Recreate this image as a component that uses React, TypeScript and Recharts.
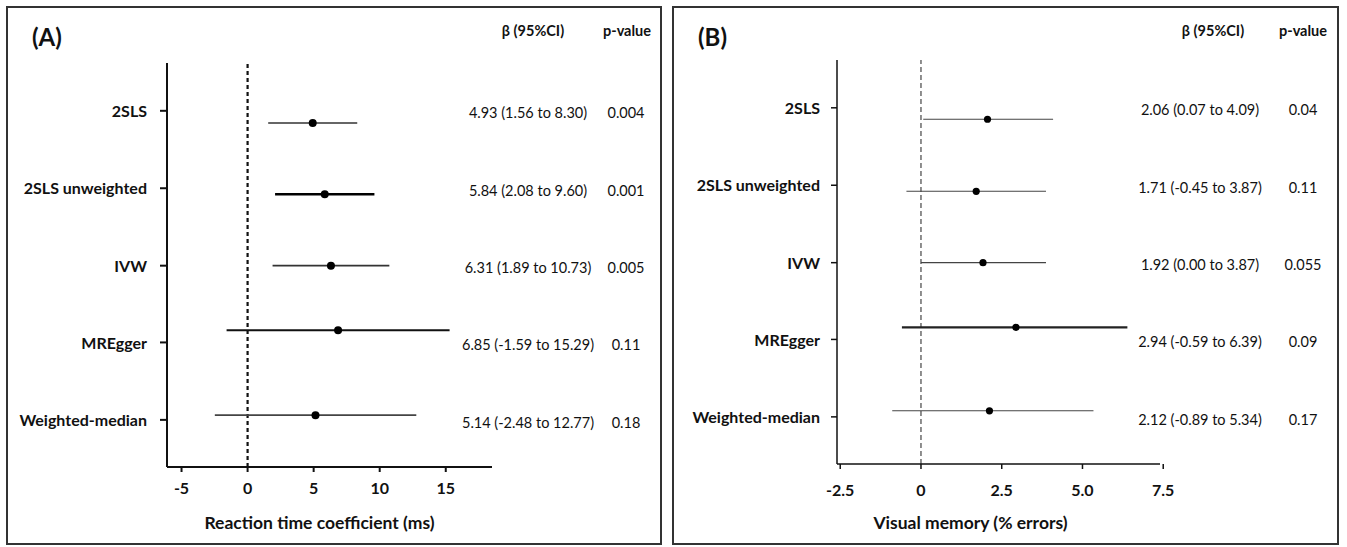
import { ScatterChart, Scatter, XAxis, YAxis, ReferenceLine, Label } from 'recharts';

// rows, top to bottom
const methods = ['2SLS', '2SLS unweighted', 'IVW', 'MREgger', 'Weighted-median'];
// where the row labels sit on the y scale (0 = top, 6 = x-axis)
const labelRows = [0.71, 1.86, 3.01, 4.15, 5.3];

// (A) reaction time
const betaA = [4.93, 5.84, 6.31, 6.85, 5.14];
const lowA = [1.56, 2.08, 1.89, -1.59, -2.48];
const highA = [8.3, 9.6, 10.73, 15.29, 12.77];
const pA = ['0.004', '0.001', '0.005', '0.11', '0.18'];
const pointRowsA = [0.89, 1.95, 3.01, 3.97, 5.23];
const xTicksA = [-5, 0, 5, 10, 15];

// (B) visual memory
const betaB = [2.06, 1.71, 1.92, 2.94, 2.12];
const lowB = [0.07, -0.45, 0.0, -0.59, -0.89];
const highB = [4.09, 3.87, 3.87, 6.39, 5.34];
const pB = ['0.04', '0.11', '0.055', '0.09', '0.17'];
const pointRowsB = [0.88, 1.95, 3.01, 3.97, 5.21];
const xTicksB = [-2.5, 0, 2.5, 5, 7.5];

const FONT = 'Lato, "Open Sans", sans-serif';
const INK = '#111';

const fmt = (v: number) => v.toFixed(2);

type PanelCfg = {
  letter: string;
  left: number;
  width: number;
  chartLeft: number;
  chartWidth: number;
  margin: { top: number; right: number; bottom: number; left: number };
  yWidth: number;
  xHeight: number;
  xDomain: [number, number];
  xTicks: number[];
  xFmt: (v: number) => string;
  xTickMargin: number;
  yTickSize: number;
  yTickMargin: number;
  title: string;
  titleDx: number;
  beta: number[];
  low: number[];
  high: number[];
  p: string[];
  rows: number[];
  ciWidths: number[];
  ciColors: string[];
  dotR: number;
  axisWidth: number;
  zeroDash: string;
  zeroWidth: number;
  zeroColor: string;
  valX: number; // centre of the β column, chart coords
  pX: number;   // centre of the p column, chart coords
  betaHead: number;
  pHead: number;
};

function Panel({ c }: { c: PanelCfg }) {
  const points = c.beta.map((b, i) => ({ x: b, y: c.rows[i] }));

  // row label on the axis + the β (95%CI) and p-value columns on the same row
  const RowTick = (props: any) => {
    const { x, y, payload } = props;
    const i = labelRows.indexOf(payload.value);
    if (i < 0) return null;
    return (
      <g fontFamily={FONT} fill={INK}>
        <text x={x} y={y + 2} textAnchor="end" dominantBaseline="middle" fontSize={16} fontWeight={700}>
          {methods[i]}
        </text>
        <text x={c.valX} y={y + 4} textAnchor="middle" dominantBaseline="middle" fontSize={14.5}>
          {`${fmt(c.beta[i])} (${fmt(c.low[i])} to ${fmt(c.high[i])})`}
        </text>
        <text x={c.pX} y={y + 4} textAnchor="middle" dominantBaseline="middle" fontSize={14.5}>
          {c.p[i]}
        </text>
      </g>
    );
  };

  const Dot = (props: any) => (
    <circle cx={props.cx} cy={props.cy} r={c.dotR} fill="#000" />
  );

  return (
    <>
      <div style={{
        position: 'absolute', left: c.left, top: 6, width: c.width, height: 539,
        border: '2px solid #333', boxSizing: 'border-box',
      }} />
      <div style={{
        position: 'absolute', left: c.left + 26, top: 22, fontFamily: FONT,
        fontWeight: 700, fontSize: 24, color: INK,
      }}>{c.letter}</div>
      <div style={{
        position: 'absolute', left: c.betaHead - 60, width: 120, top: 22, textAlign: 'center',
        fontFamily: FONT, fontWeight: 700, fontSize: 14.5, color: INK,
      }}>β (95%CI)</div>
      <div style={{
        position: 'absolute', left: c.pHead - 50, width: 100, top: 22, textAlign: 'center',
        fontFamily: FONT, fontWeight: 700, fontSize: 14.5, color: INK,
      }}>p-value</div>
      <div style={{ position: 'absolute', left: c.chartLeft, top: 0 }}>
        <ScatterChart width={c.chartWidth} height={547} margin={c.margin}>
          <XAxis
            type="number" dataKey="x" domain={c.xDomain} ticks={c.xTicks} allowDataOverflow
            tickFormatter={c.xFmt} height={c.xHeight} tickSize={5} tickMargin={c.xTickMargin}
            stroke={INK} strokeWidth={c.axisWidth}
            tick={{ fontFamily: FONT, fontSize: 16, fontWeight: 700, fill: INK }}
          >
            <Label value={c.title} position="insideBottom" offset={8} dx={c.titleDx}
              style={{ fontFamily: FONT, fontSize: 17.5, fontWeight: 700, fill: INK }} />
          </XAxis>
          <YAxis
            type="number" dataKey="y" domain={[0, 6]} reversed allowDataOverflow
            ticks={labelRows} interval={0} width={c.yWidth}
            tickSize={c.yTickSize} tickMargin={c.yTickMargin}
            stroke={INK} strokeWidth={c.axisWidth}
            tick={<RowTick />}
          />
          <ReferenceLine x={0} stroke={c.zeroColor}
            strokeWidth={c.zeroWidth} strokeDasharray={c.zeroDash} />
          {c.beta.map((_, i) => (
            <ReferenceLine
              key={i}
              segment={[{ x: c.low[i], y: c.rows[i] }, { x: c.high[i], y: c.rows[i] }]}
              stroke={c.ciColors[i]} strokeWidth={c.ciWidths[i]}
            />
          ))}
          <Scatter data={points} shape={<Dot />} isAnimationActive={false} />
        </ScatterChart>
      </div>
    </>
  );
}

const panelA: PanelCfg = {
  letter: '(A)', left: 6, width: 656, chartLeft: 0, chartWidth: 670,
  margin: { top: 63, right: 178, bottom: 10, left: 10 }, yWidth: 157, xHeight: 70,
  xDomain: [-6.1, 18.5], xTicks: xTicksA, xFmt: (v) => String(v), xTickMargin: 11,
  yTickSize: 7, yTickMargin: 13,
  title: 'Reaction time coefficient (ms)', titleDx: -10,
  beta: betaA, low: lowA, high: highA, p: pA, rows: pointRowsA,
  ciWidths: [1.6, 2.6, 1.6, 2, 1.6], ciColors: ['#333', '#000', '#333', '#111', '#444'],
  dotR: 4, axisWidth: 2, zeroDash: '4 3', zeroWidth: 2.2, zeroColor: '#111',
  valX: 528, pX: 626, betaHead: 533, pHead: 627,
};

const panelB: PanelCfg = {
  letter: '(B)', left: 672, width: 667, chartLeft: 672, chartWidth: 675,
  margin: { top: 60, right: 187, bottom: 10, left: 10 }, yWidth: 155, xHeight: 73,
  xDomain: [-2.6, 7.4], xTicks: xTicksB, xFmt: (v) => (v === 0 ? '0' : v.toFixed(1)), xTickMargin: 16,
  yTickSize: 6, yTickMargin: 11,
  title: 'Visual memory (% errors)', titleDx: -28,
  beta: betaB, low: lowB, high: highB, p: pB, rows: pointRowsB,
  ciWidths: [1.1, 1.1, 1.1, 2.2, 1.1], ciColors: ['#444', '#444', '#444', '#222', '#444'],
  dotR: 3.6, axisWidth: 1.5, zeroDash: '5 3', zeroWidth: 1.1, zeroColor: '#333',
  valX: 1200 - 672, pX: 1303 - 672, betaHead: 1213, pHead: 1303,
};

export default function App() {
  return (
    <div style={{ position: 'absolute', left: 0, top: 0, width: 1347, height: 547, background: '#fff' }}>
      <Panel c={panelA} />
      <Panel c={panelB} />
    </div>
  );
}
